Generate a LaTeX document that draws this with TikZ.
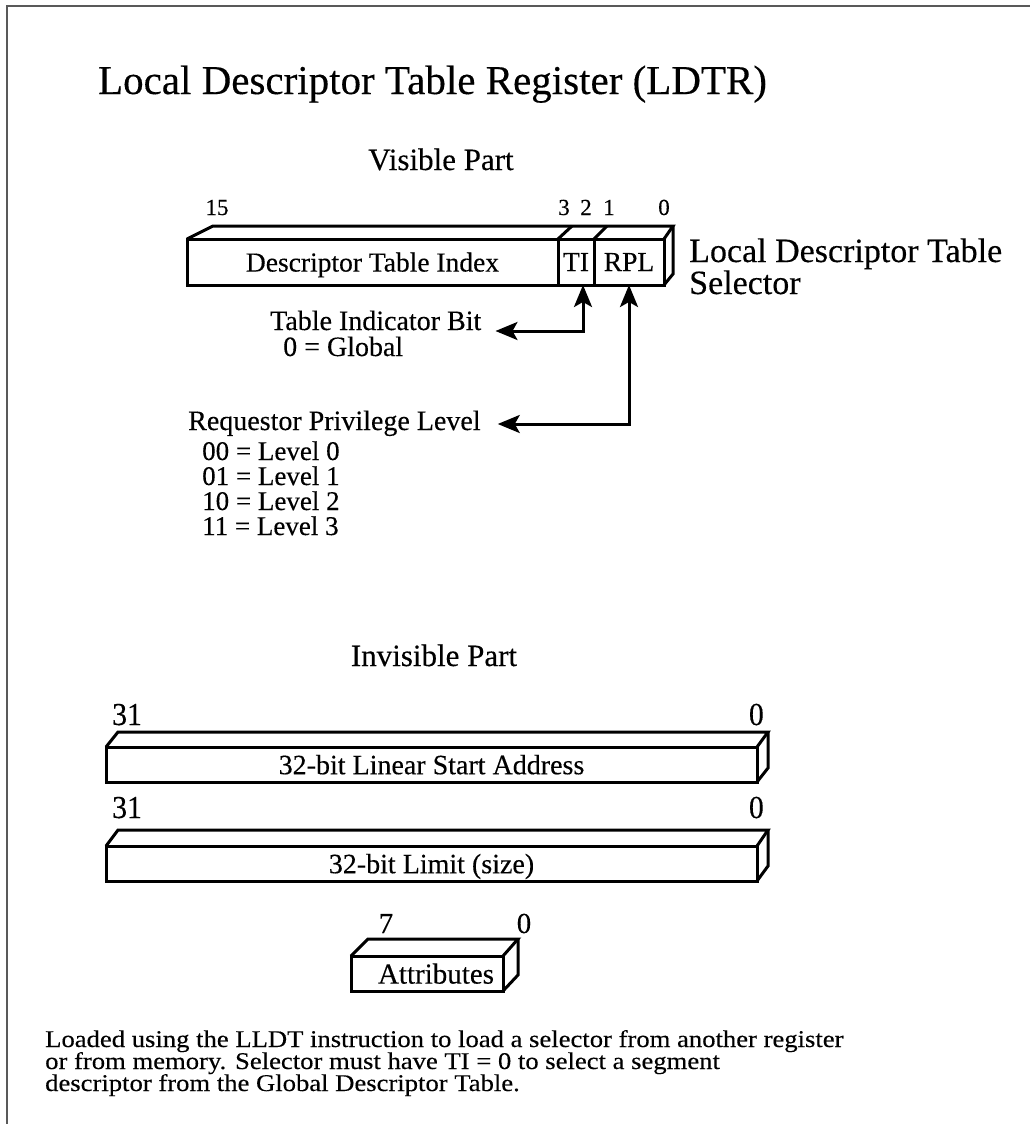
\documentclass[tikz,border=0pt]{standalone}
\usepackage{fontspec}
\setmainfont{Liberation Serif}[FakeBold=0.3]
\usepackage{graphicx}
\usetikzlibrary{arrows.meta,calc}
\newcommand{\fsz}[1]{\fontsize{#1}{#1}\selectfont}
\newcommand{\squeeze}[2]{\scalebox{#1}[1]{#2}}
\begin{document}
\begin{tikzpicture}[x=1pt,y=-1pt,
  edge/.style={line width=3pt,line join=miter},
  cell/.style={draw,line width=3pt,inner sep=0pt,outer sep=0pt,text depth=0pt},
  lab/.style={inner sep=0pt,anchor=base west},
  bit/.style={inner sep=0pt,anchor=base,font=\fsz{23}},
  ptr/.style={line width=3pt,{Stealth[length=22pt,width=18pt,inset=5pt]}-{Stealth[length=22pt,width=18pt,inset=5pt]}},
  frameline/.style={draw=black!65,line width=2pt}]
\useasboundingbox (0,0) rectangle (1030,1124);
\draw[frameline] (7,1124) -- (7,6) -- (1030,6);

% headings
\node[inner sep=0pt,anchor=base] (title) at (432.5,94) {\fsz{41}Local Descriptor Table Register (LDTR)};
\node[inner sep=0pt,anchor=base] (vis) at (441,170) {\fsz{31}Visible Part};
\node[inner sep=0pt,anchor=base] (invis) at (434,666) {\fsz{31}Invisible Part};

% ---- selector register (visible part) ----
\node[bit] (b15) at (217,215) {15};
\node[bit] (b3) at (564,215) {3};
\node[bit] (b2) at (586,215) {2};
\node[bit] (b1) at (609,215) {1};
\node[bit] (b0) at (664,215) {0};

\node[cell,minimum width=371pt,minimum height=46pt,font=\fsz{27.5}] (idx) at (372.5,262) {Descriptor Table Index};
\node[cell,minimum width=36pt,minimum height=46pt,font=\fsz{27.5}] (ti) at (576,262) {TI};
\node[cell,minimum width=70pt,minimum height=46pt,font=\fsz{27.5}] (rpl) at (629,262) {RPL};
\coordinate (selBL) at (213,226);
\coordinate (selBR) at (673,226);
\draw[edge] (idx.north west) -- (selBL) -- (selBR) -- (rpl.north east);
\draw[edge] (selBR) -- (673,274) -- (rpl.south east);
\draw[edge] (ti.north west) -- (572,226);
\draw[edge] (ti.north east) -- (607,226);

\node[lab,font=\fsz{34}] (sel1) at (689,262) {Local Descriptor Table};
\node[lab,font=\fsz{34}] (sel2) at (689,294) {Selector};

% pointers to the TI and RPL fields
\node[lab,font=\fsz{28}] (tib) at (270,330) {Table Indicator Bit};
\node[lab,font=\fsz{28}] (tiv) at (283,356) {0 = Global};
\coordinate (tiL) at ($(tib.base east)+(14,1)$);
\draw[ptr] (tiL) -| ([xshift=7pt]ti.south);

\node[lab,font=\fsz{28}] (rplb) at (188,430) {Requestor Privilege Level};
\node[lab,font=\fsz{27}] (lv0) at (202,460) {00 = Level 0};
\node[lab,font=\fsz{27}] (lv1) at (202,485) {01 = Level 1};
\node[lab,font=\fsz{27}] (lv2) at (202,510) {10 = Level 2};
\node[lab,font=\fsz{27}] (lv3) at (202,535) {11 = Level 3};
\coordinate (rplL) at ($(rplb.base east)+(17,-6)$);
\draw[ptr] (rplL) -| (rpl.south);

% ---- invisible part ----
\node[lab,font=\fsz{32}] (a31) at (112,725) {\squeeze{0.93}{31}};
\node[inner sep=0pt,anchor=base east,font=\fsz{32}] (a0) at (764,725) {\squeeze{0.93}{0}};
\node[cell,minimum width=651pt,minimum height=35pt,font=\fsz{28}] (base) at (431.5,764.5) {32-bit Linear Start Address};
\draw[edge] (base.north west) -- (118,732) -- (768,732) -- (base.north east);
\draw[edge] (768,732) -- (768,768) -- (base.south east);

\node[lab,font=\fsz{32}] (l31) at (112,818) {\squeeze{0.93}{31}};
\node[inner sep=0pt,anchor=base east,font=\fsz{32}] (l0) at (764,818) {\squeeze{0.93}{0}};
\node[cell,minimum width=651pt,minimum height=35pt,font=\fsz{28}] (limit) at (431.5,863.5) {32-bit Limit (size)};
\draw[edge] (limit.north west) -- (118,830) -- (768,830) -- (limit.north east);
\draw[edge] (768,830) -- (768,866) -- (limit.south east);

\node[bit,font=\fsz{29}] (t7) at (386,933) {7};
\node[bit,font=\fsz{29}] (t0) at (524,933) {0};
\node[cell,minimum width=152pt,minimum height=35pt,font=\fsz{29}] (attr) at (427,973.5) {\hspace*{18pt}Attributes};
\draw[edge] (attr.north west) -- (368,939) -- (518,939) -- (attr.north east);
\draw[edge] (518,939) -- (518,975) -- (attr.south east);

% ---- note ----
\node[lab,font=\fsz{24}] (n1) at (45,1047) {\squeeze{1.11}{Loaded using the LLDT instruction to load a selector from another register}};
\node[lab,font=\fsz{24}] (n2) at (45,1069) {\squeeze{1.11}{or from memory. Selector must have TI = 0 to select a segment}};
\node[lab,font=\fsz{24}] (n3) at (45,1091) {\squeeze{1.11}{descriptor from the Global Descriptor Table.}};
\end{tikzpicture}
\end{document}
